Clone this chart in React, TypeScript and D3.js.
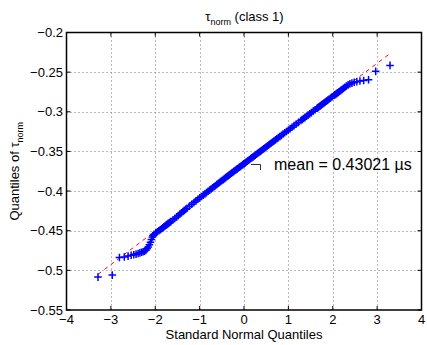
import React from "react";
import * as d3 from "d3";

// Order-statistic ranks (out of N) and their sample values (tau_norm quantiles)
const N = 1000;
const sampleRanks = [
  1, 2, 3, 4, 5, 6, 7, 8, 9, 10, 11, 12, 13, 14, 15, 16, 17, 18, 19, 20, 21,
  22, 24, 26, 28, 30, 32, 34, 36, 38, 40, 42, 44, 46, 48, 50,
  55, 60, 65, 70, 75, 80, 85, 90, 95, 100,
  110, 120, 130, 140, 150, 160, 170, 180, 190, 200, 210, 220, 230, 240, 250,
  260, 270, 280, 290, 300, 310, 320, 330, 340, 350, 360, 370, 380, 390, 400,
  410, 420, 430, 440, 450, 460, 470, 480, 490, 500,
  501, 511, 521, 531, 541, 551, 561, 571, 581, 591, 601, 611, 621, 631, 641,
  651, 661, 671, 681, 691, 701, 711, 721, 731, 741, 751, 761, 771, 781, 791,
  801, 811, 821, 831, 841, 851, 861, 871, 881, 891, 901,
  906, 911, 916, 921, 926, 931, 936, 941, 946, 951,
  953, 955, 957, 959, 961, 963, 965, 967, 969, 971, 973, 975, 977, 979,
  980, 981, 982, 983, 984, 985, 986, 987, 988, 989, 990, 991, 992, 993, 994,
  995, 996, 997, 998, 999, 1000,
];
const sampleValues = [
  -0.5085, -0.506, -0.4838, -0.4832, -0.482, -0.481, -0.4803, -0.4795, -0.4788,
  -0.478, -0.4772, -0.4765, -0.4757, -0.4745, -0.4728, -0.4705, -0.4678,
  -0.4645, -0.4612, -0.458, -0.456,
  -0.4545, -0.4527, -0.4513, -0.45, -0.4488, -0.4476, -0.4464, -0.4452,
  -0.444, -0.443, -0.442, -0.4411, -0.4402, -0.4393, -0.4385,
  -0.4365, -0.4345, -0.4326, -0.4308, -0.429, -0.4273, -0.4258, -0.4243,
  -0.4229, -0.4216,
  -0.419, -0.4166, -0.4145, -0.4124, -0.4104, -0.4085, -0.4068, -0.4051,
  -0.4035, -0.4019, -0.4003, -0.3988, -0.3974, -0.396, -0.3946,
  -0.3932, -0.3917, -0.3904, -0.3892, -0.3879, -0.3867, -0.3855, -0.3843,
  -0.3831, -0.3819, -0.3808, -0.3796, -0.3785, -0.3774, -0.3763,
  -0.3752, -0.3741, -0.373, -0.372, -0.3709, -0.3698, -0.3688, -0.3677,
  -0.3666, -0.3656,
  -0.3655, -0.3644, -0.3633, -0.3622, -0.3612, -0.3601, -0.359, -0.358,
  -0.3569, -0.3558, -0.3547, -0.3536, -0.3525, -0.3514, -0.3502,
  -0.3491, -0.3479, -0.3468, -0.3456, -0.3444, -0.3432, -0.3419, -0.3407,
  -0.3394, -0.3381, -0.3368, -0.3354, -0.334, -0.3326, -0.3312,
  -0.3297, -0.3281, -0.3265, -0.3249, -0.3232, -0.3213, -0.3195, -0.3175,
  -0.3154, -0.3133, -0.3109,
  -0.3097, -0.3084, -0.307, -0.3056, -0.3042, -0.3026, -0.301, -0.2992,
  -0.2974, -0.2954,
  -0.2946, -0.2937, -0.2928, -0.2919, -0.2909, -0.2899, -0.2888, -0.2876,
  -0.2865, -0.2853, -0.2839, -0.2826, -0.2811, -0.2795,
  -0.2786, -0.278, -0.2771, -0.2762, -0.2752, -0.2741, -0.273, -0.2718,
  -0.2705, -0.269, -0.2675, -0.266, -0.2648, -0.2638, -0.2628,
  -0.262, -0.2612, -0.2605, -0.2595, -0.249, -0.2415,
];

// Reference (dashed) line values at the two ends of the data range
const refLineEnds = [-0.505, -0.2265];

const xTicks = [-4, -3, -2, -1, 0, 1, 2, 3, 4];
const yTicks = [-0.55, -0.5, -0.45, -0.4, -0.35, -0.3, -0.25, -0.2];
const xDomain = [-4, 4];
const yDomain = [-0.55, -0.2];

const titleMain = "τ";
const titleSub = "norm";
const titleRest = " (class 1)";
const xLabel = "Standard Normal Quantiles";
const yLabelMain = "Quantiles of τ";
const yLabelSub = "norm";
const annotation = "mean = 0.43021 µs";

// Inverse standard normal CDF (Acklam)
function invNorm(p: number): number {
  const a = [-3.969683028665376e1, 2.209460984245205e2, -2.759285104469687e2, 1.38357751867269e2, -3.066479806614716e1, 2.506628277459239];
  const b = [-5.447609879822406e1, 1.615858368580409e2, -1.556989798598866e2, 6.680131188771972e1, -1.328068155288572e1];
  const c = [-7.784894002430293e-3, -3.223964580411365e-1, -2.400758277161838, -2.549732539343734, 4.374664141464968, 2.938163982698783];
  const d = [7.784695709041462e-3, 3.224671290700398e-1, 2.445134137142996, 3.754408661907416];
  const pl = 0.02425;
  if (p < pl) {
    const q = Math.sqrt(-2 * Math.log(p));
    return (((((c[0] * q + c[1]) * q + c[2]) * q + c[3]) * q + c[4]) * q + c[5]) / ((((d[0] * q + d[1]) * q + d[2]) * q + d[3]) * q + 1);
  }
  if (p > 1 - pl) {
    const q = Math.sqrt(-2 * Math.log(1 - p));
    return -(((((c[0] * q + c[1]) * q + c[2]) * q + c[3]) * q + c[4]) * q + c[5]) / ((((d[0] * q + d[1]) * q + d[2]) * q + d[3]) * q + 1);
  }
  const q = p - 0.5;
  const r = q * q;
  return ((((((a[0] * r + a[1]) * r + a[2]) * r + a[3]) * r + a[4]) * r + a[5]) * q) / (((((b[0] * r + b[1]) * r + b[2]) * r + b[3]) * r + b[4]) * r + 1);
}

const fmt = (v: number) => {
  const s = d3.format("")(+v.toFixed(2));
  return s.replace("-", "\u2212");
};

export default function App() {
  const W = 427;
  const H = 345;
  const L = 66.5, R = 421.5, T = 32.5, B = 310;
  const x = d3.scaleLinear().domain(xDomain).range([L, R]);
  const y = d3.scaleLinear().domain(yDomain).range([B, T]);

  const pts = sampleRanks.map((r, i) => ({ z: invNorm((r - 0.5) / N), v: sampleValues[i] }));
  const zMin = d3.min(pts, (p) => p.z) as number;
  const zMax = d3.max(pts, (p) => p.z) as number;
  const refLine = d3.line<[number, number]>().x((d) => x(d[0])).y((d) => y(d[1]))([
    [zMin, refLineEnds[0]],
    [zMax, refLineEnds[1]],
  ]);

  const font = "'Liberation Sans', Arial, Helvetica, sans-serif";
  const tickLen = 4;
  const cross = 3.8;

  return (
    <svg width={W} height={H} style={{ position: "absolute", left: 0, top: 0, background: "#fff" }} fontFamily={font}>
      <rect x={0} y={0} width={W} height={H} fill="#fff" />
      {/* grid */}
      {xTicks.slice(1, -1).map((t) => (
        <line key={"gx" + t} x1={Math.round(x(t)) + 0.5} x2={Math.round(x(t)) + 0.5} y1={T} y2={B} stroke="#777" strokeDasharray="1 3" strokeWidth={1} />
      ))}
      {yTicks.slice(1, -1).map((t) => (
        <line key={"gy" + t} x1={L} x2={R} y1={Math.round(y(t)) + 0.5} y2={Math.round(y(t)) + 0.5} stroke="#777" strokeDasharray="1 3" strokeWidth={1} />
      ))}
      {/* reference line (under the data) */}
      <path d={refLine || ""} stroke="#ff0000" strokeWidth={1} strokeDasharray="4 4" fill="none" />
      {/* data */}
      <g stroke="#0000ff" strokeWidth={1.5} fill="none">
        {pts.map((p, i) => {
          const cx = x(p.z), cy = y(p.v);
          return (
            <path key={i} d={`M${cx - cross},${cy}H${cx + cross}M${cx},${cy - cross}V${cy + cross}`} />
          );
        })}
      </g>
      {/* ticks */}
      {xTicks.map((t) => (
        <g key={"tx" + t}>
          <line x1={x(t)} x2={x(t)} y1={B} y2={B - tickLen} stroke="#000" />
          <line x1={x(t)} x2={x(t)} y1={T} y2={T + tickLen} stroke="#000" />
          <text x={x(t)} y={323.5} fontSize={13} textAnchor="middle">{fmt(t)}</text>
        </g>
      ))}
      {yTicks.map((t) => (
        <g key={"ty" + t}>
          <line x1={L} x2={L + tickLen} y1={y(t)} y2={y(t)} stroke="#000" />
          <line x1={R} x2={R - tickLen} y1={y(t)} y2={y(t)} stroke="#000" />
          <text x={63} y={y(t) + 4.5} fontSize={13} textAnchor="end">{fmt(t)}</text>
        </g>
      ))}
      {/* box */}
      <rect x={L} y={T} width={R - L} height={B - T} fill="none" stroke="#000" strokeWidth={1.5} />
      {/* annotation */}
      <path d="M251,164.5H260.5V170" stroke="#333" fill="none" strokeWidth={1} />
      <text x={274} y={170} fontSize={16}>{annotation}</text>
      {/* title */}
      <text x={244.5} y={20.5} fontSize={13} textAnchor="middle">
        {titleMain}
        <tspan fontSize={9} dy={4}>{titleSub}</tspan>
        <tspan dy={-4}>{titleRest}</tspan>
      </text>
      {/* axis labels */}
      <text x={244} y={339} fontSize={13} textAnchor="middle">{xLabel}</text>
      <text transform={`translate(19, ${(T + B) / 2}) rotate(-90)`} fontSize={13} textAnchor="middle">
        {yLabelMain}
        <tspan fontSize={9} dy={4}>{yLabelSub}</tspan>
      </text>
    </svg>
  );
}
